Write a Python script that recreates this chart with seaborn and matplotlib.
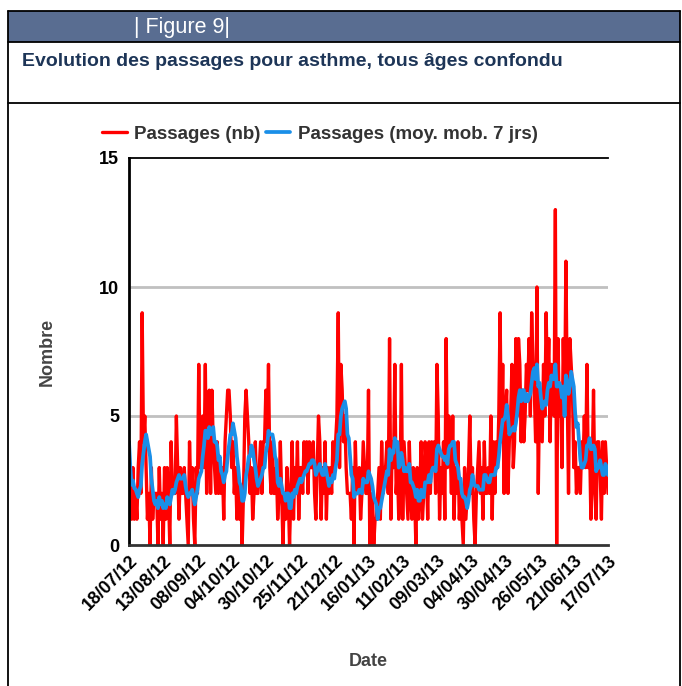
import matplotlib
matplotlib.use("Agg")
import matplotlib.pyplot as plt
import matplotlib.dates as mdates
from matplotlib.lines import Line2D
from matplotlib.patches import Rectangle
import pandas as pd
import seaborn as sns

W, H = 682, 686

start_date = "2012-07-18"
tick_step_days = 26

# daily counts, read week by week from the figure
passages = [
    4, 2, 1, 3, 1, 2, 1,
    3, 4, 2, 9, 4, 5, 3,
    1, 2, 0, 3, 1, 2, 2,
    2, 0, 3, 1, 2, 0, 3,
    1, 3, 2, 0, 4, 2, 2,
    2, 5, 3, 1, 3, 2, 2,
    3, 2, 1, 0, 4, 2, 3,
    1, 0, 3, 2, 7, 3, 4,
    5, 3, 7, 2, 5, 6, 2,
    6, 4, 3, 2, 4, 2, 3,
    2, 3, 1, 4, 5, 6, 6,
    5, 3, 4, 2, 3, 1, 3,
    1, 2, 0, 2, 5, 6, 5,
    4, 2, 3, 1, 2, 4, 2,
    2, 3, 4, 2, 4, 4, 6,
    4, 7, 3, 2, 4, 2, 2,
    3, 1, 2, 4, 2, 0, 2,
    1, 3, 2, 0, 2, 4, 1,
    3, 2, 4, 1, 3, 3, 2,
    4, 3, 4, 2, 4, 3, 3,
    4, 2, 1, 3, 5, 4, 1,
    3, 2, 4, 1, 3, 2, 3,
    2, 4, 3, 4, 5, 9, 3,
    7, 6, 4, 5, 3, 2, 2,
    2, 1, 3, 0, 4, 2, 2,
    3, 1, 2, 4, 3, 2, 2,
    6, 0, 1, 2, 0, 1, 1,
    2, 3, 1, 4, 2, 3, 3,
    4, 2, 8, 1, 4, 3, 7,
    2, 3, 1, 2, 7, 1, 4,
    3, 2, 1, 4, 2, 1, 3,
    2, 0, 3, 1, 2, 4, 1,
    2, 4, 3, 1, 4, 2, 4,
    3, 4, 2, 7, 5, 1, 3,
    2, 4, 1, 8, 3, 5, 4,
    2, 5, 1, 3, 2, 4, 1,
    2, 1, 0, 3, 1, 2, 3,
    5, 2, 3, 1, 0, 2, 3,
    4, 2, 3, 1, 4, 2, 2,
    3, 2, 5, 1, 4, 2, 4,
    3, 5, 9, 4, 7, 2, 5,
    6, 2, 4, 5, 7, 3, 4,
    8, 5, 8, 7, 4, 6, 4,
    5, 7, 6, 8, 5, 9, 7,
    6, 4, 10, 2, 6, 5, 4,
    7, 5, 9, 6, 8, 4, 7,
    6, 5, 13, 0, 8, 5, 6,
    3, 8, 5, 11, 6, 2, 8,
    7, 6, 3, 4, 2, 3, 3,
    2, 4, 3, 5, 3, 7, 3,
    4, 1, 3, 6, 2, 1, 4,
    4, 3, 1, 4, 2, 4, 3,
    2,
]

legend_labels = ["Passages (nb)", "Passages (moy. mob. 7 jrs)"]
y_ticks = [0, 5, 10, 15]

df = pd.DataFrame({
    "date": pd.date_range(start_date, periods=len(passages), freq="D"),
    "nb": passages,
})
df["mm7"] = df["nb"].rolling(7, min_periods=1).mean()

sns.set_theme(style="white")
plt.rcParams["font.family"] = ["Liberation Sans", "DejaVu Sans"]

fig = plt.figure(figsize=(W / 100, H / 100), dpi=100)


def fx(px):
    return px / W


def fy(py):
    return 1 - py / H


# header frame
fig.add_artist(Rectangle((fx(8), fy(42)), fx(672), 31 / H, transform=fig.transFigure,
                         facecolor="#596d91", edgecolor="none"))
for x0, y0, x1, y1 in [(8, 11, 680, 11), (8, 42, 680, 42), (8, 103, 680, 103),
                       (8, 11, 8, 686), (680, 11, 680, 686)]:
    fig.add_artist(Line2D([fx(x0), fx(x1)], [fy(y0), fy(y1)], transform=fig.transFigure,
                          color="black", lw=1.3))
fig.text(fx(134), fy(27), "| Figure 9|", color="white", fontsize=15.5, va="center")
fig.text(fx(22), fy(62), "Evolution des passages pour asthme, tous âges confondu",
         color="#1d3557", fontsize=14, fontweight="bold", va="center")

ax = fig.add_axes([fx(129), fy(545), fx(608) - fx(129), fy(158) - fy(545)])

sns.lineplot(data=df, x="date", y="nb", ax=ax, color="#ff0000", lw=2.4, label=legend_labels[0])
sns.lineplot(data=df, x="date", y="mm7", ax=ax, color="#1a8fe8", lw=2.7, label=legend_labels[1])

ax.set_ylim(0, 15)
ax.set_xlim(df["date"].iloc[0], df["date"].iloc[-1])
ax.set_yticks(y_ticks)
for v in y_ticks[1:-1]:
    ax.axhline(v, color="#c0c0c0", lw=2, zorder=0)

ticks = pd.date_range(start_date, periods=15, freq=f"{tick_step_days}D")
ax.set_xticks(ticks)
ax.xaxis.set_major_formatter(mdates.DateFormatter("%d/%m/%y"))
for lab in ax.get_xticklabels():
    lab.set_rotation(45)
    lab.set_ha("right")
    lab.set_rotation_mode("anchor")
    lab.set_fontweight("bold")
    lab.set_fontsize(13)
    lab.set_color("black")
for lab in ax.get_yticklabels():
    lab.set_fontweight("bold")
    lab.set_fontsize(13)
    lab.set_color("black")

ax.tick_params(axis="x", direction="inout", length=6, width=1.5, color="#333333", pad=2)
ax.tick_params(axis="y", length=0, pad=7)

ax.spines["right"].set_visible(False)
ax.spines["left"].set_color("black")
ax.spines["left"].set_linewidth(2)
ax.spines["top"].set_color("black")
ax.spines["top"].set_linewidth(1.3)
ax.spines["bottom"].set_color("#333333")
ax.spines["bottom"].set_linewidth(2)

ax.set_xlabel("Date", fontsize=13, fontweight="bold", color="#444444", labelpad=28)
ax.set_ylabel("Nombre", fontsize=13, fontweight="bold", color="#444444", labelpad=31)

leg = ax.legend(loc="center", bbox_to_anchor=(fx(320), fy(134)), bbox_transform=fig.transFigure,
                ncol=2, frameon=False, handlelength=1.3, handletextpad=0.4, columnspacing=0.3,
                prop={"weight": "bold", "size": 13.5})
for t in leg.get_texts():
    t.set_color("#333333")

fig.savefig("out.png", dpi=100)
